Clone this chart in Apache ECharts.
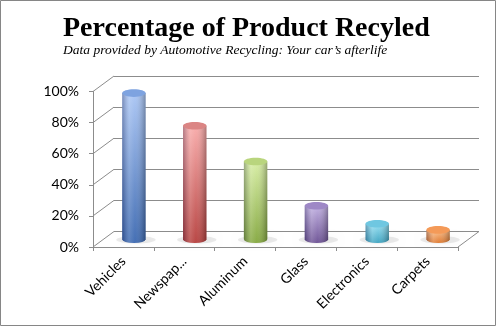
<!DOCTYPE html>
<html><head><meta charset="utf-8">
<script src="https://cdn.jsdelivr.net/npm/echarts@6/dist/echarts.min.js"></script>
<style>html,body{margin:0;padding:0;background:#fff}#c{width:497px;height:327px}</style>
</head><body><div id="c"></div>
<script>
// ---- data ----
const categories = ['Vehicles', 'Newspap...', 'Aluminum', 'Glass', 'Electronics', 'Carpets'];
const recycledPercent = [94, 73, 50, 21.5, 10, 6];
const yTicks = [0, 20, 40, 60, 80, 100];
const titleText = 'Percentage of Product Recyled';
const subtitleText = 'Data provided by Automotive Recycling: Your car\u2019s afterlife';

// ---- style ----
const barPalette = [
  {light: '#a9c5f4', dark: '#3a67b0', top: '#7ea3e0'},
  {light: '#f8aaa9', dark: '#b53d3b', top: '#db8584'},
  {light: '#d6eda2', dark: '#82a63c', top: '#b9d57d'},
  {light: '#c1b0e2', dark: '#694e92', top: '#9e88c6'},
  {light: '#96e0f3', dark: '#3aa2c0', top: '#6fc7e1'},
  {light: '#fbbd88', dark: '#de762a', top: '#f49a58'}
];
const LINE = '#8c8c8c';
const DX = 21, DY = -15.5;

const chart = echarts.init(document.getElementById('c'), null, {renderer: 'canvas'});

function renderBar(params, api) {
  const i = api.value(0), v = api.value(1);
  const base = api.coord([i, 0]);
  const top = api.coord([i, v]);
  const bw = api.size([1, 0])[0] * 0.385;
  const rx = bw / 2, ry = 3.8;
  const cx = base[0], x0 = cx - rx, x1 = cx + rx;
  const yb = base[1], yt = top[1];
  const c = barPalette[i];
  const body = 'M' + x0 + ' ' + yt + ' L' + x0 + ' ' + yb + ' A' + rx + ' ' + ry + ' 0 0 0 ' + x1 + ' ' + yb + ' L' + x1 + ' ' + yt + ' Z';
  return {type: 'group', children: [
    {type: 'ellipse', shape: {cx: cx + 2, cy: yb + 0.5, rx: rx + 8, ry: ry},
      style: {fill: 'rgba(0,0,0,0.08)', shadowBlur: 6, shadowColor: 'rgba(0,0,0,0.28)'}},
    {type: 'path', shape: {pathData: body},
      style: {fill: new echarts.graphic.LinearGradient(0, 0, 0, 1, [
        {offset: 0, color: c.light}, {offset: 1, color: c.dark}])}},
    {type: 'path', shape: {pathData: body},
      style: {fill: new echarts.graphic.LinearGradient(0, 0, 1, 0, [
        {offset: 0, color: 'rgba(0,0,40,0.28)'},
        {offset: 0.3, color: 'rgba(255,255,255,0.18)'},
        {offset: 0.55, color: 'rgba(255,255,255,0.05)'},
        {offset: 1, color: 'rgba(0,0,0,0.3)'}])}},
    {type: 'ellipse', shape: {cx: cx, cy: yt, rx: rx, ry: ry},
      style: {fill: c.top}}
  ]};
}

function renderDiag(params, api) {
  const idx = api.value(0), v = api.value(1), side = api.value(2);
  const p = api.coord([idx, v]);
  const bw = api.size([1, 0])[0];
  const x = side ? p[0] + bw / 2 : p[0] - bw / 2;
  return {type: 'line', shape: {x1: x, y1: p[1], x2: x + DX, y2: p[1] + DY},
    style: {stroke: LINE, lineWidth: 1}};
}

const diagData = yTicks.map(v => [0, v, 0]).concat([[categories.length - 1, 0, 1]]);

const option = {
  animation: false,
  backgroundColor: '#fff',
  title: [
    {text: titleText, left: 58, top: 10,
      textStyle: {fontFamily: 'Liberation Serif', fontWeight: 'bold', fontSize: 28, color: '#000'}},
    {text: subtitleText, left: 58, top: 38,
      textStyle: {fontFamily: 'Liberation Serif', fontStyle: 'italic', fontWeight: 'normal', fontSize: 13.5, color: '#000'}}
  ],
  grid: [
    {left: 93, right: 39, top: 91.5, bottom: 80},
    {left: 93 + DX, right: 39 - DX, top: 91.5 + DY, bottom: 80 - DY},
    {left: 93 + DX / 2, right: 39 - DX / 2, top: 91.5 + DY / 2, bottom: 80 - DY / 2}
  ],
  xAxis: [
    {gridIndex: 0, type: 'category', data: categories,
      axisLine: {lineStyle: {color: LINE}},
      axisTick: {show: true, length: 4, lineStyle: {color: LINE}},
      axisLabel: {rotate: 45, margin: 12, fontFamily: 'Lato', fontSize: 14, color: '#000'}},
    {gridIndex: 1, type: 'category', data: categories, show: false},
    {gridIndex: 2, type: 'category', data: categories, show: false}
  ],
  yAxis: [
    {gridIndex: 0, type: 'value', min: 0, max: 100, interval: 20,
      axisLine: {show: true, lineStyle: {color: LINE}},
      axisTick: {show: true, length: 4, lineStyle: {color: LINE}},
      splitLine: {show: false},
      axisLabel: {formatter: '{value}%', margin: 14, fontFamily: 'Lato', fontSize: 14, color: '#000'}},
    {gridIndex: 1, type: 'value', min: 0, max: 100, interval: 20,
      axisLine: {show: false}, axisTick: {show: false}, axisLabel: {show: false},
      splitLine: {show: true, lineStyle: {color: LINE, width: 1}}},
    {gridIndex: 2, type: 'value', min: 0, max: 100, interval: 20, show: false,
      splitLine: {show: false}}
  ],
  series: [
    {type: 'custom', xAxisIndex: 0, yAxisIndex: 0, data: diagData, renderItem: renderDiag, clip: false, silent: true, z: 1},
    {type: 'custom', xAxisIndex: 2, yAxisIndex: 2,
      data: recycledPercent.map((v, i) => [i, v]), renderItem: renderBar, clip: false, z: 5}
  ],
  graphic: [
    {type: 'rect', shape: {x: 0.5, y: 0.5, width: 495, height: 325},
      style: {fill: 'none', stroke: '#868686', lineWidth: 1}, z: 100, silent: true}
  ]
};
chart.setOption(option);
</script>
</body></html>
